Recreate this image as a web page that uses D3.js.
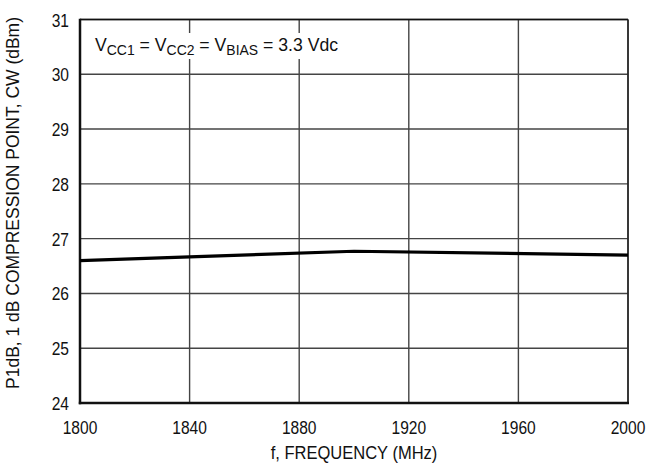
<!DOCTYPE html>
<html><head><meta charset="utf-8">
<script src="https://cdn.jsdelivr.net/npm/d3@7"></script>
<style>body{margin:0;background:#fff}svg text{font-family:"Liberation Sans Narrow","Liberation Sans",Arial,sans-serif;fill:#111}</style>
</head><body><svg id="c" width="649" height="470"></svg>
<script>
const freqs = [1800, 1900, 2000];
const p1dB = [26.60, 26.77, 26.70];
const xTicks = [1800, 1840, 1880, 1920, 1960, 2000];
const yTicks = [24, 25, 26, 27, 28, 29, 30, 31];
const xTitle = "f, FREQUENCY (MHz)";
const yTitle = "P1dB, 1 dB COMPRESSION POINT, CW (dBm)";

const svg = d3.select("#c");
const L = 80, R = 628, T = 19.5, B = 403;
const x = d3.scaleLinear().domain([1800, 2000]).range([L, R]);
const y = d3.scaleLinear().domain([24, 31]).range([B, T]);

// grid
svg.append("g").selectAll("line").data(xTicks).join("line")
  .attr("x1", d => x(d)).attr("x2", d => x(d)).attr("y1", T).attr("y2", B)
  .attr("stroke", "#444").attr("stroke-width", 1.4);
svg.append("g").selectAll("line").data(yTicks).join("line")
  .attr("x1", L).attr("x2", R).attr("y1", d => y(d)).attr("y2", d => y(d))
  .attr("stroke", "#444").attr("stroke-width", 1.4);

// annotation with white background
const ann = svg.append("text").attr("transform", "translate(95,51) scale(0.93,1)").attr("font-size", 19);
const parts = [["V",""],["CC1","sub"],[" = V",""],["CC2","sub"],[" = V",""],["BIAS","sub"],[" = 3.3 Vdc",""]];
parts.forEach(([t, s], i) => {
  const prev = i > 0 ? parts[i-1][1] : "";
  let dy = 0;
  if (s === "sub") dy = 4; else if (prev === "sub") dy = -4;
  const ts = ann.append("tspan").text(t).attr("dy", dy);
  if (s === "sub") ts.attr("font-size", 15);
});
svg.insert("rect", "text").attr("x", 90).attr("y", 33).attr("width", 250).attr("height", 26).attr("fill", "#fff");

// frame
svg.append("line").attr("x1", L).attr("x2", R).attr("y1", T).attr("y2", T).attr("stroke", "#111").attr("stroke-width", 1.5);
svg.append("line").attr("x1", R).attr("x2", R).attr("y1", T).attr("y2", B).attr("stroke", "#222").attr("stroke-width", 1.5);
svg.append("line").attr("x1", L).attr("x2", L).attr("y1", T - 0.8).attr("y2", B + 1.2).attr("stroke", "#111").attr("stroke-width", 2.5);
svg.append("line").attr("x1", L - 1.2).attr("x2", R + 1).attr("y1", B).attr("y2", B).attr("stroke", "#111").attr("stroke-width", 2.5);

// data line
svg.append("path").datum(freqs.map((f, i) => [f, p1dB[i]]))
  .attr("d", d3.line().x(d => x(d[0])).y(d => y(d[1])))
  .attr("fill", "none").attr("stroke", "#000").attr("stroke-width", 3.2);

// tick labels
svg.append("g").selectAll("text").data(xTicks).join("text")
  .attr("transform", d => `translate(${x(d)},434) scale(0.82,1)`).attr("text-anchor", "middle").attr("font-size", 19).text(d => d);
svg.append("g").selectAll("text").data(yTicks).join("text")
  .attr("transform", d => `translate(69,${y(d) + 7}) scale(0.82,1)`).attr("text-anchor", "end").attr("font-size", 19).text(d => d);

// titles
svg.append("text").attr("transform", "translate(354,459) scale(0.87,1)").attr("text-anchor", "middle").attr("font-size", 19).text(xTitle);
svg.append("text").attr("transform", "translate(19,203) rotate(-90) scale(0.92,1)").attr("text-anchor", "middle").attr("font-size", 19).text(yTitle);
</script></body></html>
